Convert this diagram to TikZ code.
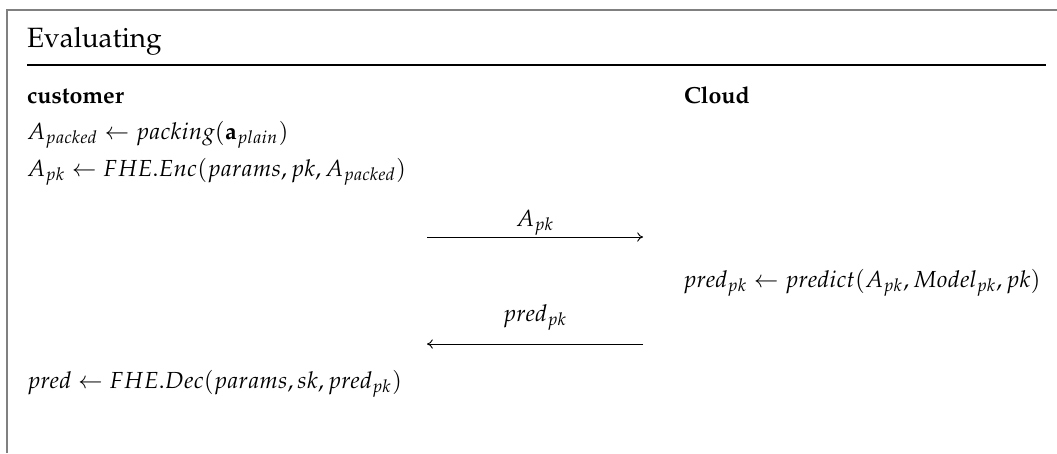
\documentclass[tikz,border=0pt]{standalone}
\usepackage[T1]{fontenc}
\usepackage{mathpazo}
\usetikzlibrary{arrows.meta}
\begin{document}
\begin{tikzpicture}[x=0.43pt,y=-0.43pt,
  txt/.style={anchor=base west,inner sep=0pt,outer sep=0pt},
  lbl/.style={anchor=base,inner sep=0pt,outer sep=0pt},
  msg/.style={line width=0.4pt},
  frameline/.style={draw=black!50,line width=0.9pt}]
\useasboundingbox (0,0) rectangle (1057,453);
\draw[frameline] (7,453) -- (7,10) -- (1057,10);
\node[txt,font=\large] (title) at (27,47) {Evaluating};
\draw[line width=0.5pt] (27,65) -- (1046,65);
\node[txt] (cust) at (27,103) {\textbf{customer}};
\node[txt] (cloud) at (684,103) {\textbf{Cloud}};
\node[txt] (l1) at (27,139) {$A_{packed} \leftarrow packing(\mathbf{a}_{plain})$};
\node[txt] (l2) at (27,176) {$A_{pk} \leftarrow FHE.Enc(params, pk, A_{packed})$};
\coordinate (a1s) at (427,237);
\coordinate (a1e) at (643,237);
\node[lbl] (m1) at (535,226) {$A_{pk}$};
\draw[msg,-{To[length=2.5pt,width=4pt]}] (a1s) -- (a1e);
\node[txt] (l3) at (683,287) {$pred_{pk} \leftarrow predict(A_{pk}, Model_{pk}, pk)$};
\coordinate (a2s) at (643,344);
\coordinate (a2e) at (427,344);
\node[lbl] (m2) at (535,321) {$pred_{pk}$};
\draw[msg,-{To[length=2.5pt,width=4pt]}] (a2s) -- (a2e);
\node[txt] (l4) at (27,388) {$pred \leftarrow FHE.Dec(params, sk, pred_{pk})$};
\end{tikzpicture}
\end{document}
